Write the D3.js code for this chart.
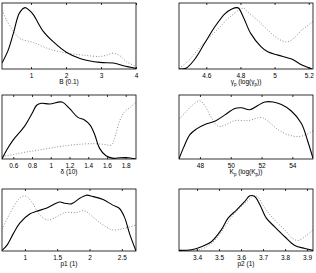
<!DOCTYPE html>
<html><head><meta charset="utf-8">
<script src="https://cdn.jsdelivr.net/npm/d3@7"></script>
<style>body{margin:0;background:#fff}svg{display:block}text,tspan{font-family:"Liberation Sans",Arial,sans-serif;fill:#000}</style>
</head><body><svg id="c" width="316" height="273"></svg>
<script>
// Panel 1: B (0.1)
const p1Domain=[0.17,4], p1Ticks=[1,2,3,4];
const p1SolidX=[0.17,0.35,0.5,0.67,0.83,0.97,1.07,1.35,1.64,2.02,2.4,2.97,3.35,3.64,4.0];
const p1SolidY=[0.09,0.29,0.55,0.85,0.93,0.88,0.82,0.57,0.41,0.25,0.16,0.10,0.09,0.05,0.01];
const p1DotX=[0.17,0.3,0.5,0.69,1.07,1.54,2.02,2.5,2.97,3.16,3.35,3.54,3.73,4.0];
const p1DotY=[0.89,0.74,0.57,0.46,0.40,0.30,0.24,0.21,0.19,0.21,0.24,0.20,0.11,0.04];
// Panel 2: gamma_p
const p2Domain=[4.44,5.225], p2Ticks=[4.6,4.8,5,5.2];
const p2SolidX=[4.44,4.48,4.53,4.59,4.65,4.71,4.75,4.78,4.79,4.82,4.86,4.92,4.96,5.02,5.10,5.16,5.22];
const p2SolidY=[0,0.01,0.14,0.39,0.64,0.84,0.91,0.93,0.92,0.77,0.54,0.34,0.26,0.21,0.15,0.06,0];
const p2DotX=[4.44,4.49,4.55,4.61,4.67,4.73,4.79,4.82,4.84,4.90,4.96,5.02,5.07,5.10,5.16,5.225];
const p2DotY=[0.01,0.11,0.29,0.46,0.61,0.77,0.89,0.92,0.87,0.74,0.59,0.46,0.41,0.44,0.59,0.72];
// Panel 3: delta (10)
const p3Domain=[0.48,1.91], p3Ticks=[0.6,0.8,1,1.2,1.4,1.6,1.8];
const p3SolidX=[0.48,0.53,0.6,0.72,0.8,0.85,0.9,0.99,1.12,1.2,1.29,1.36,1.42,1.47,1.52,1.59,1.67,1.74,1.83,1.91];
const p3SolidY=[0,0.14,0.30,0.51,0.71,0.84,0.87,0.86,0.89,0.79,0.65,0.61,0.53,0.38,0.17,0.05,0.01,0.02,0.02,0];
const p3DotX=[0.48,0.6,0.74,0.88,1.03,1.17,1.31,1.45,1.56,1.65,1.68,1.74,1.79,1.86,1.91];
const p3DotY=[0.04,0.07,0.11,0.14,0.18,0.21,0.23,0.24,0.23,0.22,0.32,0.61,0.74,0.82,0.89];
// Panel 4: K_p
const p4Domain=[46.64,55.34], p4Ticks=[48,50,52,54];
const p4SolidX=[46.64,46.92,47.35,47.78,48.32,48.97,49.62,50.27,50.70,51.24,51.78,52.21,52.75,53.29,53.93,54.58,55.01,55.34];
const p4SolidY=[0,0.17,0.38,0.47,0.54,0.59,0.69,0.79,0.80,0.77,0.84,0.89,0.89,0.85,0.75,0.56,0.27,0.01];
const p4DotX=[46.64,47.03,47.46,48.0,48.32,48.76,49.19,49.62,50.27,51.13,51.99,52.42,53.07,53.72,54.36,54.9,55.34];
const p4DotY=[0.62,0.72,0.83,0.91,0.83,0.64,0.51,0.53,0.60,0.60,0.65,0.59,0.46,0.38,0.35,0.38,0.44];
// Panel 5: p1 (1)
const p5Domain=[0.645,2.72], p5Ticks=[1,1.5,2,2.5];
const p5SolidX=[0.645,0.72,0.82,0.92,1.08,1.18,1.33,1.54,1.62,1.72,1.85,1.95,2.05,2.21,2.36,2.46,2.54,2.62,2.72];
const p5SolidY=[0.01,0.09,0.28,0.45,0.60,0.64,0.69,0.79,0.77,0.76,0.85,0.90,0.88,0.83,0.74,0.69,0.55,0.28,0];
const p5DotX=[0.645,0.77,0.9,1.0,1.1,1.23,1.36,1.49,1.62,1.8,1.92,2.05,2.21,2.36,2.52,2.72];
const p5DotY=[0.35,0.61,0.83,0.89,0.80,0.58,0.50,0.55,0.62,0.62,0.65,0.55,0.42,0.34,0.36,0.42];
// Panel 6: p2 (1)
const p6Domain=[3.318,3.927], p6Ticks=[3.4,3.5,3.6,3.7,3.8,3.9];
const p6SolidX=[3.318,3.374,3.42,3.465,3.51,3.541,3.579,3.617,3.64,3.662,3.685,3.715,3.753,3.799,3.844,3.89,3.927];
const p6SolidY=[0.01,0.02,0.07,0.15,0.34,0.53,0.66,0.80,0.89,0.88,0.75,0.53,0.39,0.23,0.09,0.04,0.01];
const p6DotX=[3.318,3.42,3.48,3.526,3.571,3.617,3.662,3.677,3.708,3.753,3.799,3.836,3.859,3.89,3.927];
const p6DotY=[0.01,0.03,0.17,0.39,0.61,0.77,0.89,0.87,0.69,0.50,0.34,0.20,0.17,0.23,0.34];

const panels=[
 {dom:p1Domain,ticks:p1Ticks,sx:p1SolidX,sy:p1SolidY,dx:p1DotX,dy:p1DotY,label:[["B (0.1)"]],x:2,y:3,w:134,h:66},
 {dom:p2Domain,ticks:p2Ticks,sx:p2SolidX,sy:p2SolidY,dx:p2DotX,dy:p2DotY,label:[["γ"],["p","sub"],[" (log(γ"],["p","sub"],["))"]],x:179,y:3,w:134,h:66},
 {dom:p3Domain,ticks:p3Ticks,sx:p3SolidX,sy:p3SolidY,dx:p3DotX,dy:p3DotY,label:[["δ (10)"]],x:2,y:95,w:134,h:64},
 {dom:p4Domain,ticks:p4Ticks,sx:p4SolidX,sy:p4SolidY,dx:p4DotX,dy:p4DotY,label:[["K"],["p","sub"],[" (log(K"],["p","sub"],["))"]],x:179,y:95,w:134,h:64},
 {dom:p5Domain,ticks:p5Ticks,sx:p5SolidX,sy:p5SolidY,dx:p5DotX,dy:p5DotY,label:[["p1 (1)"]],x:2,y:189,w:134,h:62},
 {dom:p6Domain,ticks:p6Ticks,sx:p6SolidX,sy:p6SolidY,dx:p6DotX,dy:p6DotY,label:[["p2 (1)"]],x:179,y:189,w:134,h:62}
];
const svg=d3.select("#c");
panels.forEach(p=>{
  const g=svg.append("g").attr("transform",`translate(${p.x},${p.y})`);
  const x=d3.scaleLinear().domain(p.dom).range([0,p.w]);
  const y=d3.scaleLinear().domain([0,1]).range([p.h,0]);
  const clip="clip"+p.x+"_"+p.y;
  g.append("clipPath").attr("id",clip).append("rect").attr("width",p.w).attr("height",p.h);
  const line=d3.line().x(d=>x(d[0])).y(d=>y(d[1])).curve(d3.curveCatmullRom.alpha(0.5));
  g.append("path").datum(p.dx.map((v,i)=>[v,p.dy[i]])).attr("d",line).attr("fill","none")
    .attr("stroke","#909090").attr("stroke-width",1).attr("stroke-dasharray","1,1.8").attr("clip-path",`url(#${clip})`);
  g.append("path").datum(p.sx.map((v,i)=>[v,p.sy[i]])).attr("d",line).attr("fill","none")
    .attr("stroke","#000").attr("stroke-width",1.1).attr("clip-path",`url(#${clip})`);
  g.append("rect").attr("width",p.w).attr("height",p.h).attr("fill","none").attr("stroke","#000").attr("stroke-width",0.8);
  const ax=g.append("g").attr("transform",`translate(0,${p.h})`)
    .call(d3.axisBottom(x).tickValues(p.ticks).tickSizeInner(-2).tickSizeOuter(0).tickPadding(4).tickFormat(d3.format("")));
  ax.select(".domain").remove();
  ax.selectAll("line").attr("stroke","#000").attr("stroke-width",0.8);
  ax.selectAll("text").attr("font-size",6.5).attr("fill","#000");
  const axt=g.append("g").call(d3.axisTop(x).tickValues(p.ticks).tickSizeInner(-2).tickSizeOuter(0).tickFormat(""));
  axt.select(".domain").remove();
  axt.selectAll("line").attr("stroke","#000").attr("stroke-width",0.8);
  const t=g.append("text").attr("x",p.w/2).attr("y",p.h+15).attr("text-anchor","middle").attr("font-size",6.5).attr("fill","#000");
  p.label.forEach((s,i)=>{
    const ts=t.append("tspan").text(s[0]).attr("fill","#000");
    if(s[1]==="sub") ts.attr("font-size",4.5).attr("dy",1.5);
    else if(i>0) ts.attr("dy",-1.5);
  });
});
</script></body></html>
